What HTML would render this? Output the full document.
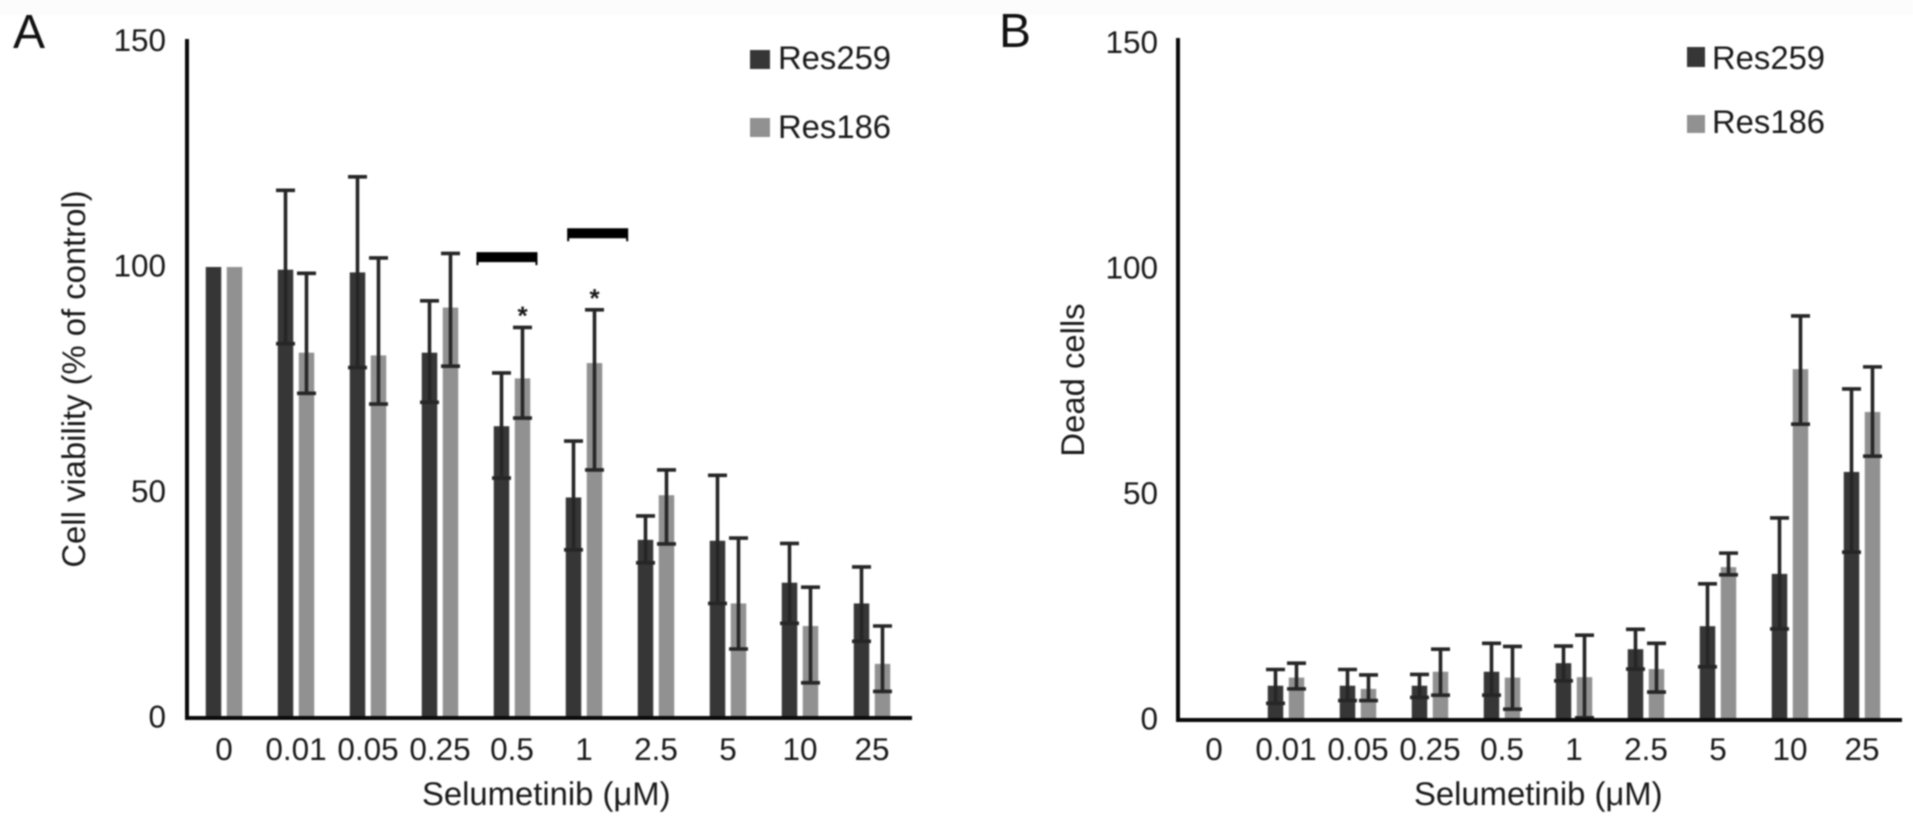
<!DOCTYPE html>
<html lang="en">
<head>
<meta charset="utf-8">
<title>Cell viability and dead cells with Selumetinib</title>
<style>
html,body{margin:0;padding:0;background:#fff;width:1913px;height:824px;overflow:hidden}
svg{display:block;filter:blur(0.7px)}
text{font-family:"Liberation Sans",Arial,sans-serif;fill:#1a1a1a;text-rendering:geometricPrecision}
.tick{font-size:31.5px}
.title{font-size:32.8px}
.legend{font-size:32.8px}
.letter{font-size:48px;fill:#111}
.axis{stroke:#0a0a0a;stroke-width:4;fill:none;stroke-linecap:square}
</style>
</head>
<body>
<svg id="figure" xmlns="http://www.w3.org/2000/svg" width="1913" height="824" viewBox="0 0 1913 824">
  <rect x="0" y="0" width="1913" height="15" fill="#fcfcfc"/>
  <g id="panel-a">
    <text class="letter" x="13" y="48">A</text>
    <line class="axis" x1="187" y1="41" x2="187" y2="718"/>
    <text class="title" transform="translate(85,379) rotate(-90)" text-anchor="middle">Cell viability (% of control)</text>
    <text class="title" x="422" y="805">Selumetinib (μM)</text>
    <g>
      <rect x="750" y="50" width="20" height="19" fill="#363636"/>
      <text class="legend" x="778" y="69">Res259</text>
      <rect x="750" y="118" width="20" height="19" fill="#919191"/>
      <text class="legend" x="778" y="138">Res186</text>
    </g>
  </g>
  <g id="panel-b">
    <text class="letter" x="999" y="47">B</text>
    <line class="axis" x1="1178" y1="40" x2="1178" y2="720"/>
    <text class="title" transform="translate(1084,380) rotate(-90)" text-anchor="middle">Dead cells</text>
    <text class="title" x="1414" y="805">Selumetinib (μM)</text>
    <g>
      <rect x="1687" y="47" width="18" height="20" fill="#363636"/>
      <text class="legend" x="1712" y="69">Res259</text>
      <rect x="1687" y="115" width="18" height="18" fill="#919191"/>
      <text class="legend" x="1712" y="133">Res186</text>
    </g>
  </g>
</svg>
<script>
const categories = ['0','0.01','0.05','0.25','0.5','1','2.5','5','10','25'];
const yTicks = [0, 50, 100, 150];

const viabilityRes259 = [100, 99.4, 98.8, 81, 64.7, 48.9, 39.5, 39.3, 30, 25.4];
const viabilityRes259High = [100, 117, 120, 92.5, 76.5, 61.4, 44.8, 53.8, 38.7, 33.5];
const viabilityRes259Low = [100, 83, 77.7, 70, 53.2, 37.3, 34.4, 25.4, 21, 17];
const viabilityRes186 = [100, 81, 80.4, 91, 75.3, 78.7, 49.4, 25.4, 20.4, 12];
const viabilityRes186High = [100, 98.6, 102, 103, 86.6, 90.5, 55, 39.9, 29, 20.4];
const viabilityRes186Low = [100, 72, 69.6, 78, 66.5, 55, 38.6, 15.3, 7.8, 5.9];

const bracketCenters = [3.93, 5.19];
const bracketValues = [103.3, 108.6];
const starCategories = [4, 5];

const deadRes259 = [0, 7.6, 7.6, 7.6, 10.7, 12.6, 15.7, 20.8, 32.4, 55];
const deadRes259High = [0, 11.2, 11.2, 10.1, 17, 16.4, 20.1, 30.2, 44.8, 73.4];
const deadRes259Low = [0, 3.7, 4.3, 5, 5.5, 8.7, 11.3, 11.8, 20.2, 37.2];
const deadRes186 = [0, 9.4, 6.9, 10.7, 9.4, 9.5, 11.3, 33.9, 77.8, 68.3];
const deadRes186High = [0, 12.6, 10, 15.7, 16.3, 18.8, 17, 37, 89.6, 78.3];
const deadRes186Low = [0, 6.9, 4.3, 5.5, 2.4, 0.5, 6.2, 32.2, 65.6, 58.5];

const NS = 'http://www.w3.org/2000/svg';
const BAR_WIDTH = 15.5;
const BAR_OFFSET = 10.5;
const CAP = 9.5;
const DARK = '#363636';
const LIGHT = '#919191';
const ERR = '#262626';

function make(parent, tag, attrs, content) {
  const el = document.createElementNS(NS, tag);
  for (const k in attrs) el.setAttribute(k, attrs[k]);
  if (content !== undefined) el.textContent = content;
  parent.appendChild(el);
  return el;
}

function drawSeries(group, xScale, yScale, zero, values, high, low, offset, color, prefix) {
  values.forEach(function (v, i) {
    const cx = xScale(i) + offset;
    if (v > 0) {
      const bar = make(group, 'rect', {x: cx - BAR_WIDTH / 2, y: yScale(v), width: BAR_WIDTH, height: zero - yScale(v), fill: color});
      
      
    }
  });
  values.forEach(function (v, i) {
    if (high[i] <= v && low[i] >= v) return;
    const cx = xScale(i) + offset;
    const err = make(group, 'path', {
      d: 'M' + (cx - CAP) + ' ' + yScale(high[i]) + 'H' + (cx + CAP) +
         'M' + cx + ' ' + yScale(high[i]) + 'V' + yScale(low[i]) +
         'M' + (cx - CAP) + ' ' + yScale(low[i]) + 'H' + (cx + CAP),
      stroke: ERR, 'stroke-width': 3.6, fill: 'none'
    });
    
    
  });
}

function drawAxes(group, xScale, yScale, zero, axisLeft, axisRight, labelRight, prefix) {
  const base = make(group, 'line', {class: 'axis', x1: axisLeft, y1: zero, x2: axisRight, y2: zero});
  
  
  yTicks.forEach(function (t) {
    const lab = make(group, 'text', {class: 'tick', x: labelRight, y: yScale(t) + 9.5, 'text-anchor': 'end'}, String(t));
    
    
  });
  categories.forEach(function (c, i) {
    const lab = make(group, 'text', {class: 'tick', x: xScale(i), y: 760, 'text-anchor': 'middle'}, c);
    
    
  });
}

/* Panel A */
const zeroA = 718;
const xA = function (i) { return 224 + 72 * i; };
const yA = function (v) { return zeroA - 4.51 * v; };
const panelA = document.getElementById('panel-a');
drawSeries(panelA, xA, yA, zeroA, viabilityRes259, viabilityRes259High, viabilityRes259Low, -BAR_OFFSET, DARK, 'res259');
drawSeries(panelA, xA, yA, zeroA, viabilityRes186, viabilityRes186High, viabilityRes186Low, BAR_OFFSET, LIGHT, 'res186');
drawAxes(panelA, xA, yA, zeroA, 187, 910, 166, 'panel-a');

bracketCenters.forEach(function (p, k) {
  const cx = xA(p);
  const top = yA(bracketValues[k]);
  const br = make(panelA, 'path', {
    d: 'M' + (cx - 30.5) + ' ' + (top + 13) + 'V' + top + 'H' + (cx + 30.5) + 'V' + (top + 13) +
       'H' + (cx + 28.5) + 'V' + (top + 10) + 'H' + (cx - 28.5) + 'V' + (top + 13) + 'Z',
    fill: '#000'
  });
  
  
});

starCategories.forEach(function (c) {
  const star = make(panelA, 'text', {
    x: xA(c) + BAR_OFFSET,
    y: yA(viabilityRes186High[c]) - 3,
    'text-anchor': 'middle',
    style: 'font-size:26px;font-weight:bold'
  }, '*');
  
  
});

/* Panel B */
const zeroB = 720;
const xB = function (i) { return 1214 + 72 * i; };
const yB = function (v) { return zeroB - 4.51 * v; };
const panelB = document.getElementById('panel-b');
drawSeries(panelB, xB, yB, zeroB, deadRes259, deadRes259High, deadRes259Low, -BAR_OFFSET, DARK, 'res259');
drawSeries(panelB, xB, yB, zeroB, deadRes186, deadRes186High, deadRes186Low, BAR_OFFSET, LIGHT, 'res186');
drawAxes(panelB, xB, yB, zeroB, 1178, 1900, 1158, 'panel-b');
</script>
</body>
</html>
